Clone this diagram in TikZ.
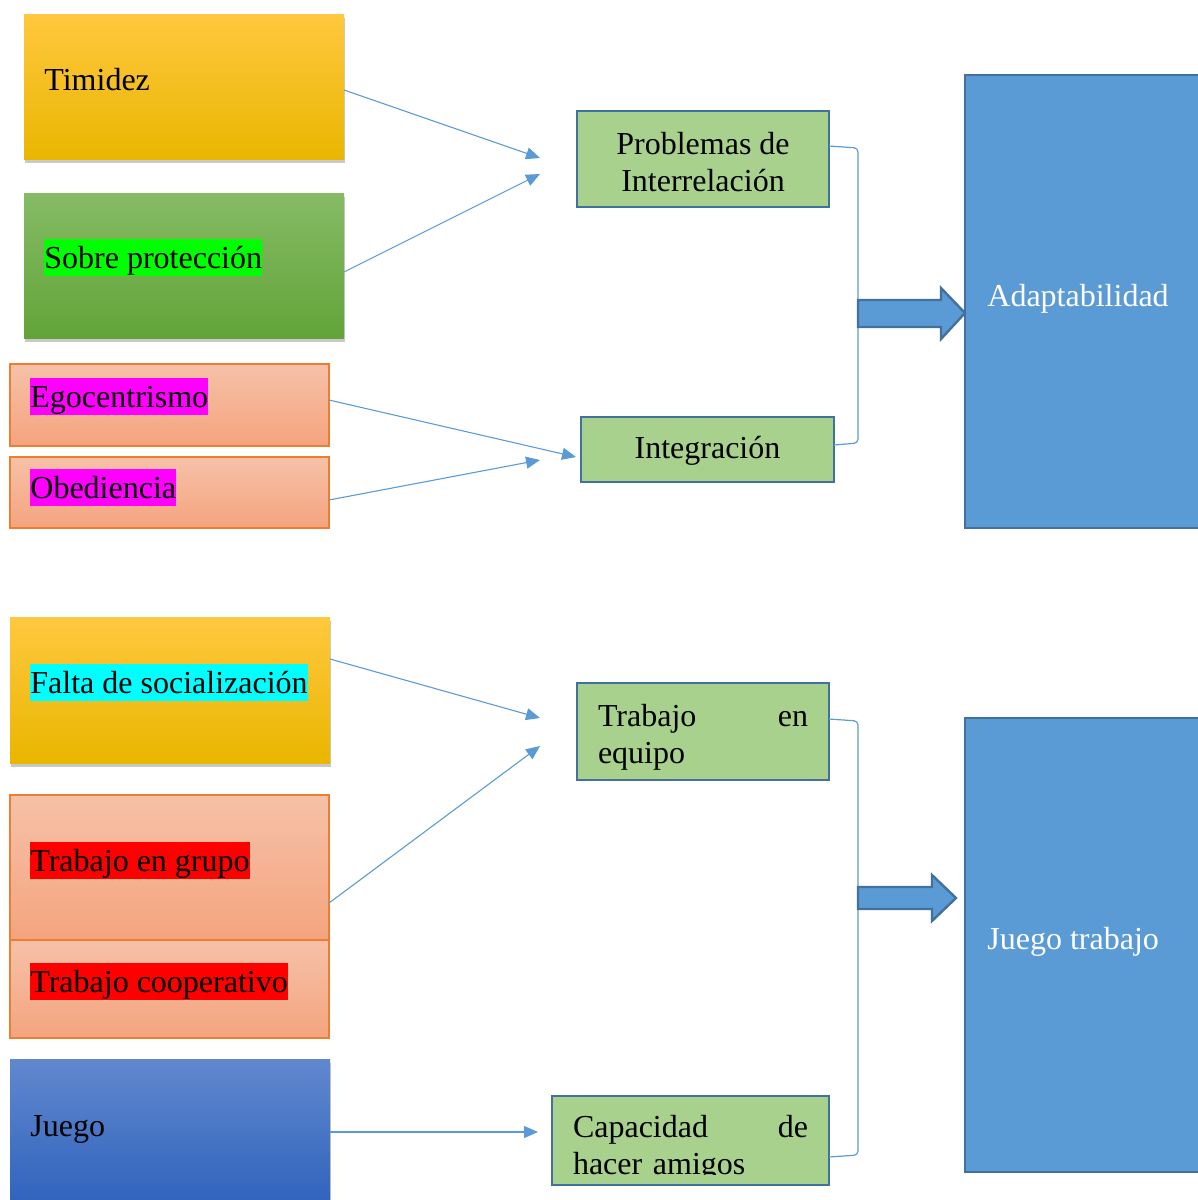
\documentclass[tikz,border=0pt]{standalone}
\usepackage{fontspec}
\setmainfont{Liberation Serif}
\usetikzlibrary{shadows,arrows.meta,calc}
\definecolor{lineblue}{HTML}{5B9BD5}
\definecolor{darkborder}{HTML}{41719C}
\definecolor{greenfill}{HTML}{A9D18E}
\definecolor{bigblue}{HTML}{5B9BD5}
\definecolor{yT}{HTML}{FFC83F}
\definecolor{yM}{HTML}{FFC000}
\definecolor{yB}{HTML}{E9B600}
\definecolor{gT}{HTML}{85BB65}
\definecolor{gM}{HTML}{70AD47}
\definecolor{gB}{HTML}{63A439}
\definecolor{sT}{HTML}{F6C1A8}
\definecolor{sB}{HTML}{F4A47E}
\definecolor{sBorder}{HTML}{ED7D31}
\definecolor{bT}{HTML}{6188CE}
\definecolor{bB}{HTML}{2E62BC}
\definecolor{hlgreen}{HTML}{00FF00}
\definecolor{hlmag}{HTML}{FF00FF}
\definecolor{hlcyan}{HTML}{00FFFF}
\definecolor{hlred}{HTML}{FF0000}
\newcommand{\hl}[2]{{\setlength{\fboxsep}{0pt}\colorbox{#1}{\rule[-4pt]{0pt}{18.5pt}#2}}}
\tikzset{
  box/.style={anchor=north west, inner sep=0pt, outer sep=0pt},
  shad/.style={drop shadow={shadow xshift=0.6pt, shadow yshift=-2pt, opacity=0.3, fill=black!70}},
  ybox/.style={box, shad, top color=yT, middle color=yM, bottom color=yB},
  gbox/.style={box, shad, top color=gT, middle color=gM, bottom color=gB},
  sbox/.style={box, top color=sT, bottom color=sB, draw=sBorder, line width=0.6pt},
  bbox/.style={box, shad, top color=bT, bottom color=bB},
  midbox/.style={inner sep=0pt, outer sep=0pt, fill=greenfill, draw=darkborder, line width=1.2pt},
  bigbox/.style={box, fill=bigblue, draw=darkborder, line width=1.2pt},
  txt/.style={anchor=base west, inner sep=0pt, font=\fontsize{16}{18.4}\selectfont},
  ctxt/.style={inner sep=0pt, align=center, font=\fontsize{16}{18.4}\selectfont},
  jtxt/.style={inner sep=0pt, align=left, font=\fontsize{16}{18.4}\selectfont},
  conn/.style={draw=lineblue, line width=0.55pt, -{Triangle[length=7pt,width=6pt]}},
  brace/.style={draw=lineblue, line width=0.6pt, rounded corners=2pt},
  fatarrow/.style={fill=bigblue, draw=darkborder, line width=1.2pt, line join=miter}
}
\begin{document}
\begin{tikzpicture}[x=0.5pt,y=-0.5pt]
\useasboundingbox (0,0) rectangle (1198,1200);
\clip (0,0) rectangle (1198,1200);

% ---------- top group: left boxes
\node[ybox, minimum width=160pt, minimum height=72.5pt] (timidez) at (24,14) {};
\node[txt] (timidezt) at (44,90) {Timidez};
\node[gbox, minimum width=160pt, minimum height=72.5pt] (sobre) at (24,193) {};
\node[txt] (sobret) at (44,268) {\hl{hlgreen}{Sobre protección}};
\node[sbox, minimum width=159.5pt, minimum height=41pt] (ego) at (10,364) {};
\node[txt] (egot) at (30,407) {\hl{hlmag}{Egocentrismo}};
\node[sbox, minimum width=159.5pt, minimum height=35.5pt] (obe) at (10,457) {};
\node[txt] (obet) at (30,498) {\hl{hlmag}{Obediencia}};

% middle boxes
\node[midbox, minimum width=126pt, minimum height=48pt] (prob) at (703,159) {};
\node[ctxt] (probt) at (703,162) {Problemas de\\Interrelación};
\node[midbox, minimum width=126.5pt, minimum height=32.5pt] (integ) at (707.5,449.5) {};
\node[ctxt] (integt) at (707.5,451) {Integración};

% big right box
\node[bigbox, minimum width=125pt, minimum height=226.5pt] (adapt) at (965,75) {};
\node[txt, text=white] (adaptt) at (987,306) {Adaptabilidad};

% connectors top
\coordinate (e1) at (540,158);
\coordinate (e2) at (540,174);
\coordinate (e3) at (576,457);
\coordinate (e4) at (540,460);
\draw[conn] ($(timidez.north east)+(0,76)$) -- (e1);
\draw[conn] ($(sobre.north east)+(0,79)$) -- (e2);
\draw[conn] ($(ego.north east)+(0,36)$) -- (e3);
\draw[conn] ($(obe.north east)+(0,43)$) -- (e4);

% bracket top
\coordinate (br1) at (858,313);
\draw[brace] ($(prob.north east)+(0,35)$) -- (858,148) -- (858,443) -- ($(integ.north east)+(0,28)$);
\draw[fatarrow] ($(br1)+(0,-13)$) -- ($(br1)+(83,-13)$) -- ($(br1)+(83,-25)$) -- (br1 -| adapt.west) -- ($(br1)+(83,26)$) -- ($(br1)+(83,14)$) -- ($(br1)+(0,14)$) -- cycle;

% ---------- bottom group: left boxes
\node[ybox, minimum width=160pt, minimum height=73pt] (falta) at (10,617) {};
\node[txt] (faltat) at (30,693) {\hl{hlcyan}{Falta de socialización}};
\node[sbox, minimum width=159.5pt, minimum height=72.5pt] (grupo) at (10,795) {};
\node[txt] (grupot) at (30,871) {\hl{hlred}{Trabajo en grupo}};
\node[sbox, minimum width=159.5pt, minimum height=49pt] (coop) at (10,940) {};
\node[txt] (coopt) at (30,992) {\hl{hlred}{Trabajo cooperativo}};
\node[bbox, minimum width=160pt, minimum height=75pt] (juego) at (10,1059) {};
\node[txt] (juegot) at (30,1136) {Juego};

% middle boxes
\node[midbox, minimum width=126pt, minimum height=48.5pt] (equipo) at (703,731.5) {};
\node[jtxt, text width=105pt] (equipot) at (703,737) {Trabajo\hfill en\\equipo};
\node[midbox, minimum width=138.5pt, minimum height=44.5pt] (amigos) at (690.5,1140.5) {};
\begin{scope}
\clip (552,1096) rectangle (829,1174);
\node[jtxt, text width=117.5pt] (amigost) at (690.5,1148) {Capacidad\hfill de\\hacer amigos};
\end{scope}

% big right box
\node[bigbox, minimum width=125pt, minimum height=227pt] (jt) at (965,718) {};
\node[txt, text=white] (jtt) at (987,949) {Juego trabajo};

% connectors bottom
\coordinate (f1) at (540,718);
\coordinate (f2) at (540,746);
\coordinate (f3) at (538,1132);
\draw[conn] ($(falta.north east)+(0,42)$) -- (f1);
\draw[conn] ($(grupo.north east)+(0,108)$) -- (f2);
\draw[conn] ($(juego.north east)+(0,73)$) -- (f3);

% bracket bottom
\coordinate (br2) at (858,898);
\draw[brace] ($(equipo.north east)+(0,36)$) -- (858,721) -- (858,1155) -- ($(amigos.north east)+(0,61)$);
\draw[fatarrow] ($(br2)+(0,-11)$) -- ($(br2)+(74,-11)$) -- ($(br2)+(74,-23)$) -- ($(br2)+(98,0)$) -- ($(br2)+(74,23)$) -- ($(br2)+(74,11)$) -- ($(br2)+(0,11)$) -- cycle;
\end{tikzpicture}
\end{document}
